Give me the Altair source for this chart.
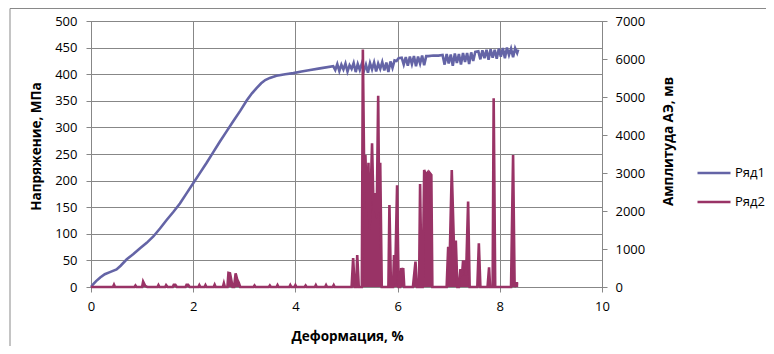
import altair as alt
import pandas as pd

# Ряд1: напряжение, МПа
stress_x = [0, 0.05, 0.10, 0.18, 0.27, 0.37, 0.50, 0.58, 0.70, 0.83, 0.96, 1.09, 1.22, 1.35,
            1.48, 1.61, 1.74, 1.87, 2.00, 2.13, 2.26, 2.39, 2.52, 2.65, 2.78, 2.92,
            3.05, 3.15, 3.24, 3.33, 3.41, 3.50, 3.63, 3.80, 3.96, 4.12, 4.29, 4.48, 4.74,
            4.78, 4.82, 4.86, 4.90, 4.94, 4.98, 5.02, 5.06, 5.10, 5.14, 5.18, 5.22, 5.26, 5.30,
            5.34, 5.38, 5.42, 5.46, 5.50, 5.54, 5.58, 5.62, 5.66, 5.70, 5.74, 5.78, 5.82, 5.86,
            5.90, 5.94, 5.98, 6.02, 6.08, 6.12, 6.16, 6.20, 6.24, 6.28, 6.32, 6.36, 6.40, 6.44,
            6.48, 6.52, 6.56, 6.60, 6.70, 6.80, 6.88, 6.92, 6.96, 7.00, 7.04, 7.08, 7.12, 7.16,
            7.20, 7.24, 7.28, 7.32, 7.36, 7.40, 7.44, 7.48, 7.52, 7.58, 7.62, 7.66, 7.70, 7.74,
            7.78, 7.82, 7.86, 7.90, 7.94, 7.98, 8.02, 8.06, 8.10, 8.14, 8.18, 8.22, 8.26, 8.30,
            8.34, 8.36]
stress_y = [0, 6, 11, 18, 24, 28, 33, 40, 52, 62, 73, 83, 95, 110,
            126, 141, 157, 176, 195, 214, 233, 253, 273, 292, 311, 331,
            351, 364, 374, 383, 389, 393, 397, 400, 402, 405, 408, 411, 415,
            408, 419, 406, 418, 409, 420, 405, 417, 410, 421, 404, 419, 408, 420,
            406, 418, 403, 421, 409, 422, 405, 420, 410, 423, 407, 422, 404, 424,
            412, 426, 425, 430, 431, 418, 432, 416, 433, 419, 434, 415, 433, 420,
            435, 417, 434, 434, 435, 435, 436, 418, 438, 420, 437, 416, 439, 421,
            438, 418, 440, 423, 440, 419, 441, 425, 442, 443, 428, 445, 430, 446,
            427, 447, 431, 446, 429, 448, 433, 449, 430, 450, 436, 448, 432, 449,
            440, 446]

# Ряд2: амплитуда АЭ, мв
ae_x = [0, 0.43, 0.45, 0.47, 0.85, 0.87, 0.89, 1.00, 1.02, 1.06, 1.10, 1.30, 1.32, 1.34,
        1.45, 1.47, 1.50, 1.60, 1.62, 1.65, 1.68, 1.85, 1.87, 1.90, 1.93, 2.10, 2.12, 2.14,
        2.22, 2.24, 2.26, 2.40, 2.42, 2.44, 2.58, 2.60, 2.62, 2.67, 2.69, 2.72, 2.75, 2.77,
        2.80, 2.83, 2.86, 2.89, 2.92, 3.18, 3.20, 3.22, 3.48, 3.50, 3.52, 3.63, 3.65, 3.67,
        3.88, 3.90, 3.92, 3.98, 4.00, 4.02, 4.18, 4.20, 4.22, 4.38, 4.40, 4.42, 4.58, 4.60,
        4.62, 4.73, 4.75, 4.77, 5.10, 5.13, 5.16, 5.19, 5.21, 5.24, 5.30, 5.32, 5.35, 5.37,
        5.40, 5.43, 5.45, 5.48, 5.50, 5.53, 5.56, 5.59, 5.62, 5.64, 5.66, 5.69, 5.72, 5.82,
        5.84, 5.87, 5.91, 5.93, 5.95, 5.99, 6.02, 6.05, 6.07, 6.09, 6.11, 6.13, 6.30, 6.35,
        6.38, 6.42, 6.44, 6.47, 6.49, 6.52, 6.55, 6.58, 6.60, 6.63, 6.66, 6.68, 6.96, 6.99,
        7.02, 7.06, 7.10, 7.14, 7.17, 7.20, 7.23, 7.26, 7.28, 7.32, 7.34, 7.38, 7.41, 7.56,
        7.59, 7.62, 7.76, 7.79, 7.81, 7.86, 7.88, 7.91, 8.22, 8.26, 8.29, 8.33, 8.36]
ae_y = [0, 0, 60, 0, 0, 40, 0, 0, 140, 30, 0, 0, 50, 0,
        0, 50, 0, 0, 60, 60, 0, 0, 60, 60, 0, 0, 50, 0,
        0, 50, 0, 0, 60, 0, 0, 100, 0, 0, 370, 360, 150, 0,
        0, 360, 200, 120, 0, 0, 40, 0, 0, 40, 0, 0, 50, 0,
        0, 50, 0, 0, 50, 0, 0, 40, 0, 0, 50, 0, 0, 50,
        0, 0, 50, 0, 0, 760, 0, 0, 840, 0, 0, 6250, 2500, 3470,
        2000, 3270, 1500, 2800, 3780, 2000, 2470, 1800, 5030, 2000, 3270, 0, 0, 0,
        2160, 0, 0, 840, 100, 2680, 0, 0, 500, 300, 500, 0, 0, 670,
        0, 0, 2710, 0, 0, 3080, 2950, 3000, 2200, 3000, 2950, 0, 0, 1060,
        800, 3080, 1190, 1190, 0, 0, 470, 300, 670, 670, 300, 2250, 0, 0,
        1150, 0, 0, 520, 0, 0, 4970, 0, 0, 3470, 0, 100, 100]

series_names = ["Ряд1", "Ряд2"]
series_colors = ["#6464A6", "#993366"]

x_ticks = [0, 2, 4, 6, 8, 10]
left_ticks = [0, 50, 100, 150, 200, 250, 300, 350, 400, 450, 500]
right_ticks = [0, 1000, 2000, 3000, 4000, 5000, 6000, 7000]

stress_df = pd.DataFrame({"x": stress_x, "y": stress_y, "series": series_names[0]})
ae_df = pd.DataFrame({"x": ae_x, "y": ae_y, "series": series_names[1]})

FONT = "Open Sans"
GRID = "#878787"

xenc = alt.X("x:Q", scale=alt.Scale(domain=[0, 10], nice=False),
             axis=alt.Axis(values=x_ticks, title="Деформация, %", grid=True,
                           titleX=256, titleY=49, titleBaseline="middle", titleAlign="center",
                           labelPadding=8, labelFlush=False))

color = alt.Color("series:N", scale=alt.Scale(domain=series_names, range=series_colors),
                  legend=alt.Legend(title=None, orient="none", legendX=605, legendY=134,
                                    symbolType="stroke", symbolSize=1089, symbolStrokeWidth=2.5,
                                    labelFontSize=13, labelFont=FONT, rowPadding=4,
                                    labelOffset=3, labelColor="#000000"))

stress = alt.Chart(stress_df).mark_line(strokeWidth=2.6).encode(
    x=xenc,
    y=alt.Y("y:Q", scale=alt.Scale(domain=[0, 500], nice=False),
            axis=alt.Axis(values=left_ticks, title="Напряжение, МПа", grid=True,
                          titleX=-55, titleY=125, titleAngle=-90, titleAlign="center",
                          titleBaseline="middle", labelPadding=9)),
    color=color,
    order=alt.Order("x:Q"),
)

yr = alt.Y("y:Q", scale=alt.Scale(domain=[0, 7000], nice=False), stack=None,
           axis=alt.Axis(values=right_ticks, orient="right", title="Амплитуда АЭ, мв", grid=False,
                         format="d", titleX=66, titleY=120, titleAngle=-90, titleAlign="center",
                         titleBaseline="middle", labelPadding=8))

ae_area = alt.Chart(ae_df).mark_area(fill=series_colors[1], opacity=1).encode(
    x=alt.X("x:Q"), y=yr)
ae_line = alt.Chart(ae_df).mark_line(strokeWidth=2.6).encode(
    x=alt.X("x:Q"), y=yr, color=color, order=alt.Order("x:Q"))
ae = alt.layer(ae_area, ae_line)

border = alt.Chart(pd.DataFrame({"k": [0]})).mark_rect(
    fill=None, stroke="#898989", strokeWidth=1).encode(
    x=alt.value(-81), x2=alt.value(720), y=alt.value(-12.5), y2=alt.value(400))

chart = alt.layer(border, stress, ae).resolve_scale(y="independent").properties(
    width=511, height=266,
    autosize=alt.AutoSizeParams(type="none"),
    padding={"left": 83, "top": 13, "right": 164, "bottom": 59},
    background="white",
).configure_view(stroke=GRID, strokeWidth=1).configure_axis(
    domainColor=GRID, tickColor=GRID, gridColor=GRID, gridWidth=1, domainWidth=1,
    tickSize=5, labelFont=FONT, labelFontSize=13, labelColor="#000000",
    titleFont=FONT, titleFontSize=13.5, titleFontWeight="bold", titleColor="#000000",
)

chart.save("out.html", embed_options={"renderer": "svg", "actions": False})
